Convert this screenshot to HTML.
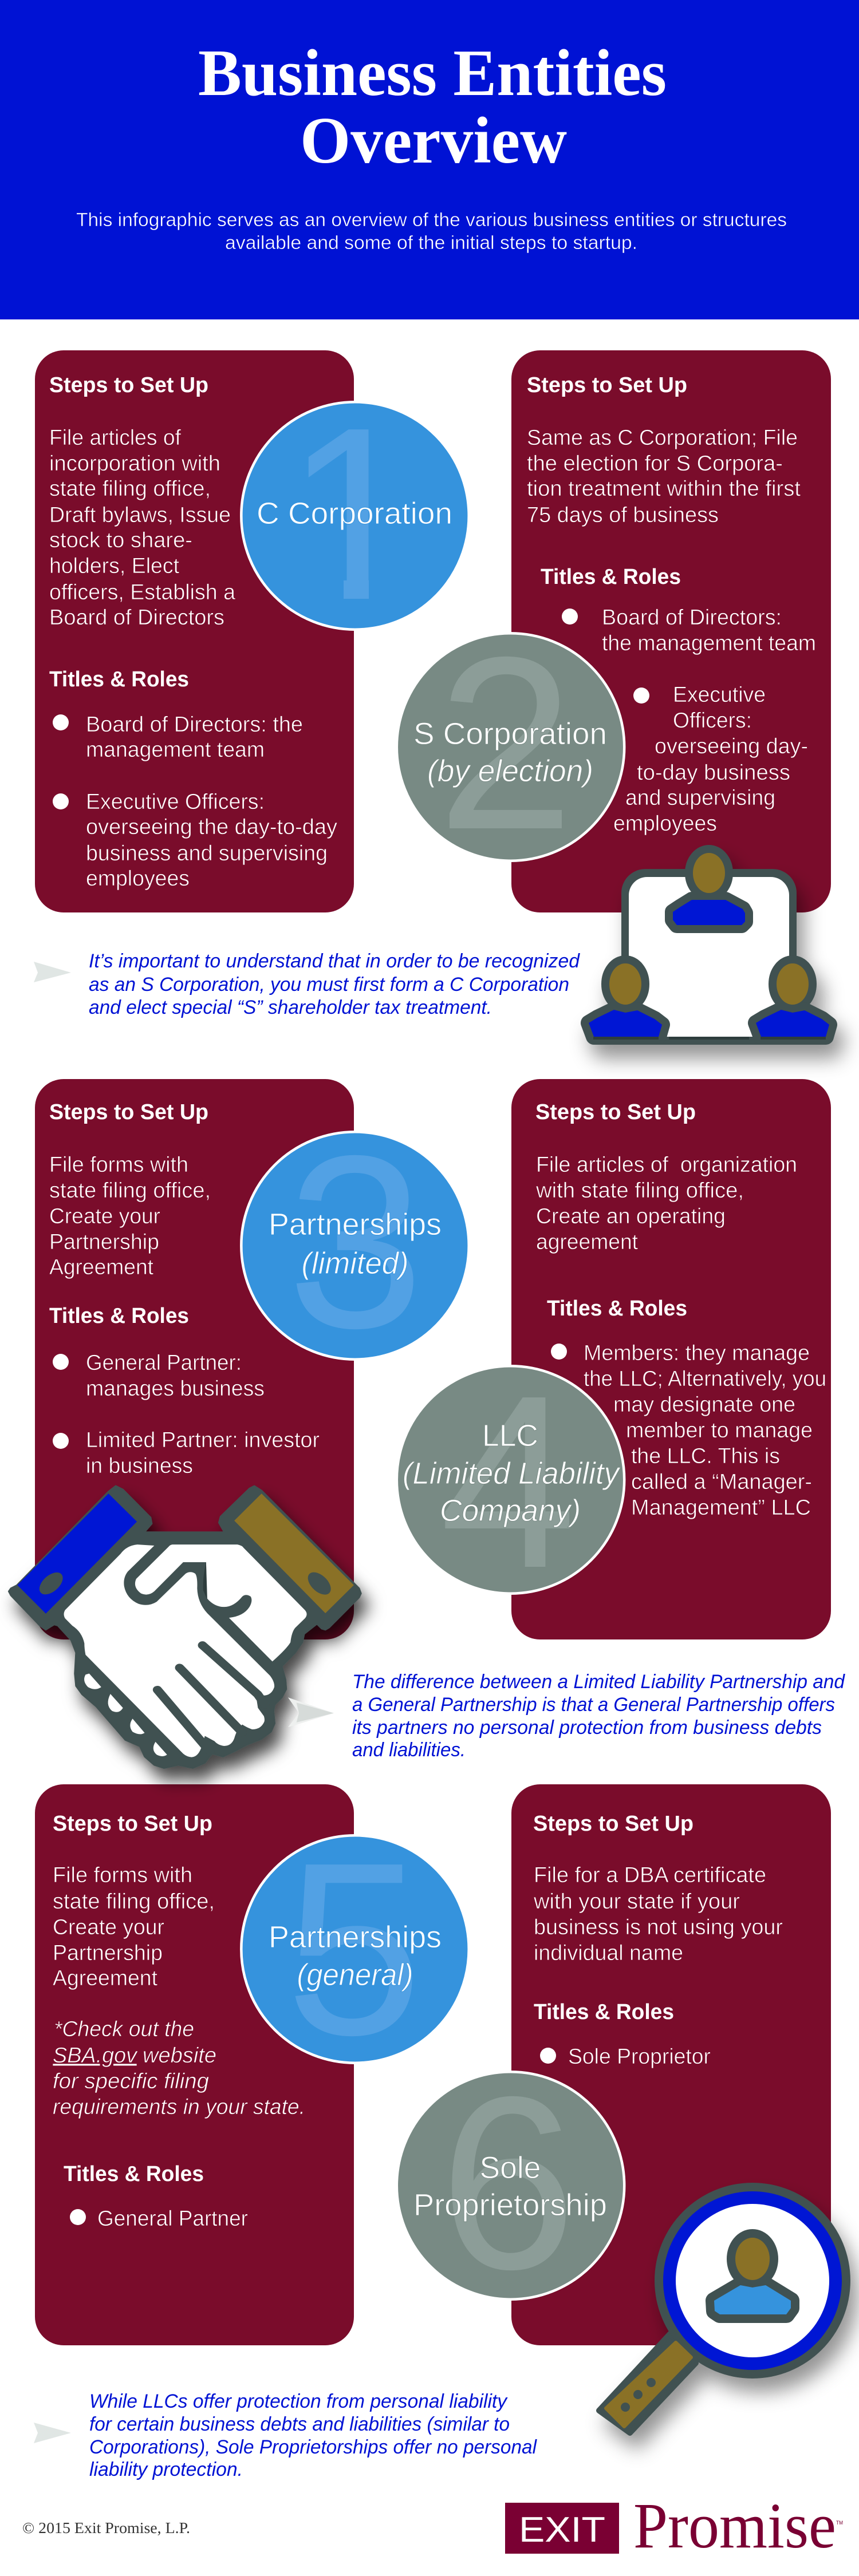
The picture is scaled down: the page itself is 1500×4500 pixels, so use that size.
<!DOCTYPE html>
<html lang="en"><head><meta charset="utf-8"><title>Business Entities Overview</title>
<style>
html,body{margin:0;padding:0;background:#fff}
svg{display:block}
text{font-family:"Liberation Sans",sans-serif;fill:#fff;font-size:38px}
.t text{stroke:#7a0c2b;stroke-width:.7}
.t text.b{stroke:none}
.b{font-weight:bold}
.i{font-style:italic}
.n{font-style:italic;fill:#0012d4;font-size:34px}
.l{font-size:54px;text-anchor:middle}
.lb{stroke:#3593dd;stroke-width:.9}
.lg{stroke:#788a84;stroke-width:.9}
.d{font-size:430px;text-anchor:middle}
.db{fill:#52a1e4}.dg{fill:#8c9d98}
.card{fill:#7a0c2b}
.cb{fill:#3593dd;stroke:#fff;stroke-width:4.5}
.cg{fill:#788a84;stroke:#fff;stroke-width:4.5}
.dk{fill:#415151}
.gold{fill:#8a7126}
.bl{fill:#0012d4}
</style></head><body>
<svg xmlns="http://www.w3.org/2000/svg" width="1500" height="4500" viewBox="0 0 1500 4500">
<defs>
<filter id="sh" x="-30%" y="-30%" width="170%" height="170%"><feDropShadow dx="13" dy="24" stdDeviation="17" flood-color="#000" flood-opacity=".42"/></filter>
<filter id="sh2" x="-30%" y="-30%" width="170%" height="170%"><feDropShadow dx="12" dy="22" stdDeviation="15" flood-color="#000" flood-opacity=".72"/></filter>
<clipPath id="one"><rect x="500" y="700" width="200" height="310"/><rect x="600" y="1000" width="44" height="60"/></clipPath>
</defs>
<rect width="1500" height="4500" fill="#fff"/>
<rect width="1500" height="558" fill="#0012d4"/>
<text x="346" y="166" class="b" style="font-family:'Liberation Serif',serif;font-size:115px" textLength="818" lengthAdjust="spacingAndGlyphs">Business Entities</text>
<text x="524" y="284" class="b" style="font-family:'Liberation Serif',serif;font-size:115px" textLength="466" lengthAdjust="spacingAndGlyphs">Overview</text>
<g style="stroke:#0012d4;stroke-width:.5">
<text x="133" y="395" style="font-size:33px" textLength="1241" lengthAdjust="spacingAndGlyphs">This infographic serves as an overview of the various business entities or structures</text>
<text x="393" y="435" style="font-size:33px" textLength="720" lengthAdjust="spacingAndGlyphs">available and some of the initial steps to startup.</text>
</g>

<!-- cards -->
<rect class="card" x="61" y="612" width="557" height="982" rx="50"/>
<rect class="card" x="893" y="612" width="558" height="982" rx="50"/>
<rect class="card" x="61" y="1885" width="557" height="979" rx="50"/>
<rect class="card" x="893" y="1885" width="558" height="979" rx="50"/>
<rect class="card" x="61" y="3117" width="557" height="980" rx="50"/>
<rect class="card" x="893" y="3117" width="558" height="980" rx="50"/>

<g class="t">
<!-- Card 1 -->
<text class="b" x="86" y="685" textLength="278" lengthAdjust="spacingAndGlyphs">Steps to Set Up</text>
<text x="86" y="777" textLength="230" lengthAdjust="spacingAndGlyphs">File articles of</text>
<text x="86" y="822" textLength="299" lengthAdjust="spacingAndGlyphs">incorporation with</text>
<text x="86" y="866" textLength="282" lengthAdjust="spacingAndGlyphs">state filing office,</text>
<text x="86" y="912" textLength="317" lengthAdjust="spacingAndGlyphs">Draft bylaws, Issue</text>
<text x="86" y="956" textLength="250" lengthAdjust="spacingAndGlyphs">stock to share-</text>
<text x="86" y="1001" textLength="227" lengthAdjust="spacingAndGlyphs">holders, Elect</text>
<text x="86" y="1047" textLength="325" lengthAdjust="spacingAndGlyphs">officers, Establish a</text>
<text x="86" y="1091" textLength="306" lengthAdjust="spacingAndGlyphs">Board of Directors</text>
<text class="b" x="86" y="1199" textLength="244" lengthAdjust="spacingAndGlyphs">Titles &amp; Roles</text>
<circle cx="106" cy="1262" r="14" fill="#fff"/>
<text x="150" y="1278" textLength="379" lengthAdjust="spacingAndGlyphs">Board of Directors: the</text>
<text x="150" y="1322" textLength="312" lengthAdjust="spacingAndGlyphs">management team</text>
<circle cx="106" cy="1400" r="14" fill="#fff"/>
<text x="150" y="1413" textLength="312" lengthAdjust="spacingAndGlyphs">Executive Officers:</text>
<text x="150" y="1457" textLength="439" lengthAdjust="spacingAndGlyphs">overseeing the day-to-day</text>
<text x="150" y="1503" textLength="422" lengthAdjust="spacingAndGlyphs">business and supervising</text>
<text x="150" y="1547" textLength="181" lengthAdjust="spacingAndGlyphs">employees</text>

<!-- Card 2 -->
<text class="b" x="920" y="685" textLength="280" lengthAdjust="spacingAndGlyphs">Steps to Set Up</text>
<text x="920" y="777" textLength="473" lengthAdjust="spacingAndGlyphs">Same as C Corporation; File</text>
<text x="920" y="822" textLength="447" lengthAdjust="spacingAndGlyphs">the election for S Corpora-</text>
<text x="920" y="866" textLength="478" lengthAdjust="spacingAndGlyphs">tion treatment within the first</text>
<text x="920" y="912" textLength="335" lengthAdjust="spacingAndGlyphs">75 days of business</text>
<text class="b" x="944" y="1020" textLength="245" lengthAdjust="spacingAndGlyphs">Titles &amp; Roles</text>
<circle cx="995" cy="1077" r="14" fill="#fff"/>
<text x="1051" y="1091" textLength="314" lengthAdjust="spacingAndGlyphs">Board of Directors:</text>
<text x="1051" y="1136" textLength="374" lengthAdjust="spacingAndGlyphs">the management team</text>
<circle cx="1120" cy="1215" r="14" fill="#fff"/>
<text x="1175" y="1226" textLength="162" lengthAdjust="spacingAndGlyphs">Executive</text>
<text x="1175" y="1271" textLength="138" lengthAdjust="spacingAndGlyphs">Officers:</text>
<text x="1143" y="1316" textLength="268" lengthAdjust="spacingAndGlyphs">overseeing day-</text>
<text x="1112" y="1362" textLength="268" lengthAdjust="spacingAndGlyphs">to-day business</text>
<text x="1092" y="1406" textLength="262" lengthAdjust="spacingAndGlyphs">and supervising</text>
<text x="1071" y="1451" textLength="181" lengthAdjust="spacingAndGlyphs">employees</text>

<!-- Card 3 -->
<text class="b" x="86" y="1955" textLength="278" lengthAdjust="spacingAndGlyphs">Steps to Set Up</text>
<text x="86" y="2047" textLength="243" lengthAdjust="spacingAndGlyphs">File forms with</text>
<text x="86" y="2092" textLength="282" lengthAdjust="spacingAndGlyphs">state filing office,</text>
<text x="86" y="2137" textLength="194" lengthAdjust="spacingAndGlyphs">Create your</text>
<text x="86" y="2182" textLength="192" lengthAdjust="spacingAndGlyphs">Partnership</text>
<text x="86" y="2226" textLength="182" lengthAdjust="spacingAndGlyphs">Agreement</text>
<text class="b" x="86" y="2311" textLength="244" lengthAdjust="spacingAndGlyphs">Titles &amp; Roles</text>
<circle cx="106" cy="2379" r="14" fill="#fff"/>
<text x="150" y="2393" textLength="272" lengthAdjust="spacingAndGlyphs">General Partner:</text>
<text x="150" y="2438" textLength="312" lengthAdjust="spacingAndGlyphs">manages business</text>
<circle cx="106" cy="2517" r="14" fill="#fff"/>
<text x="150" y="2528" textLength="408" lengthAdjust="spacingAndGlyphs">Limited Partner: investor</text>
<text x="150" y="2573" textLength="187" lengthAdjust="spacingAndGlyphs">in business</text>

<!-- Card 4 -->
<text class="b" x="935" y="1955" textLength="280" lengthAdjust="spacingAndGlyphs">Steps to Set Up</text>
<text x="936" y="2047" textLength="456" lengthAdjust="spacingAndGlyphs" xml:space="preserve">File articles of  organization</text>
<text x="936" y="2092" textLength="363" lengthAdjust="spacingAndGlyphs">with state filing office,</text>
<text x="936" y="2137" textLength="331" lengthAdjust="spacingAndGlyphs">Create an operating</text>
<text x="936" y="2182" textLength="178" lengthAdjust="spacingAndGlyphs">agreement</text>
<text class="b" x="955" y="2298" textLength="245" lengthAdjust="spacingAndGlyphs">Titles &amp; Roles</text>
<circle cx="976" cy="2361" r="14" fill="#fff"/>
<text x="1019" y="2376" textLength="395" lengthAdjust="spacingAndGlyphs">Members: they manage</text>
<text x="1019" y="2421" textLength="424" lengthAdjust="spacingAndGlyphs">the LLC; Alternatively, you</text>
<text x="1071" y="2466" textLength="318" lengthAdjust="spacingAndGlyphs">may designate one</text>
<text x="1093" y="2511" textLength="326" lengthAdjust="spacingAndGlyphs">member to manage</text>
<text x="1102" y="2556" textLength="260" lengthAdjust="spacingAndGlyphs">the LLC. This is</text>
<text x="1102" y="2601" textLength="316" lengthAdjust="spacingAndGlyphs">called a “Manager-</text>
<text x="1102" y="2646" textLength="314" lengthAdjust="spacingAndGlyphs">Management” LLC</text>

<!-- Card 5 -->
<text class="b" x="92" y="3198" textLength="279" lengthAdjust="spacingAndGlyphs">Steps to Set Up</text>
<text x="92" y="3288" textLength="244" lengthAdjust="spacingAndGlyphs">File forms with</text>
<text x="92" y="3334" textLength="283" lengthAdjust="spacingAndGlyphs">state filing office,</text>
<text x="92" y="3379" textLength="195" lengthAdjust="spacingAndGlyphs">Create your</text>
<text x="92" y="3424" textLength="192" lengthAdjust="spacingAndGlyphs">Partnership</text>
<text x="92" y="3468" textLength="183" lengthAdjust="spacingAndGlyphs">Agreement</text>
<text class="i" x="94" y="3557" textLength="245" lengthAdjust="spacingAndGlyphs">*Check out the</text>
<text class="i" x="92" y="3603" textLength="147" lengthAdjust="spacingAndGlyphs" text-decoration="underline">SBA.gov</text>
<text class="i" x="249" y="3603" textLength="129" lengthAdjust="spacingAndGlyphs">website</text>
<text class="i" x="92" y="3648" textLength="273" lengthAdjust="spacingAndGlyphs">for specific filing</text>
<text class="i" x="92" y="3693" textLength="441" lengthAdjust="spacingAndGlyphs">requirements in your state.</text>
<text class="b" x="111" y="3810" textLength="245" lengthAdjust="spacingAndGlyphs">Titles &amp; Roles</text>
<circle cx="136" cy="3873" r="14" fill="#fff"/>
<text x="170" y="3888" textLength="263" lengthAdjust="spacingAndGlyphs">General Partner</text>

<!-- Card 6 -->
<text class="b" x="931" y="3198" textLength="280" lengthAdjust="spacingAndGlyphs">Steps to Set Up</text>
<text x="932" y="3288" textLength="406" lengthAdjust="spacingAndGlyphs">File for a DBA certificate</text>
<text x="932" y="3334" textLength="360" lengthAdjust="spacingAndGlyphs">with your state if your</text>
<text x="932" y="3379" textLength="435" lengthAdjust="spacingAndGlyphs">business is not using your</text>
<text x="932" y="3424" textLength="261" lengthAdjust="spacingAndGlyphs">individual name</text>
<text class="b" x="932" y="3527" textLength="245" lengthAdjust="spacingAndGlyphs">Titles &amp; Roles</text>
<circle cx="957" cy="3591" r="14" fill="#fff"/>
<text x="992" y="3605" textLength="249" lengthAdjust="spacingAndGlyphs">Sole Proprietor</text>
</g>

<!-- Note 1 -->
<polygon points="59,1680 124,1699 59,1716 66,1699" fill="#e0e6e4"/>
<text class="n" x="155" y="1690" textLength="857" lengthAdjust="spacingAndGlyphs">It’s important to understand that in order to be recognized</text>
<text class="n" x="155" y="1731" textLength="839" lengthAdjust="spacingAndGlyphs">as an S Corporation, you must first form a C Corporation</text>
<text class="n" x="155" y="1771" textLength="704" lengthAdjust="spacingAndGlyphs">and elect special “S” shareholder tax treatment.</text>

<!-- Note 2 -->
<text class="n" x="615" y="2949" textLength="860" lengthAdjust="spacingAndGlyphs">The difference between a Limited Liability Partnership and</text>
<text class="n" x="615" y="2989" textLength="843" lengthAdjust="spacingAndGlyphs">a General Partnership is that a General Partnership offers</text>
<text class="n" x="615" y="3029" textLength="820" lengthAdjust="spacingAndGlyphs">its partners no personal protection from business debts</text>
<text class="n" x="615" y="3068" textLength="198" lengthAdjust="spacingAndGlyphs">and liabilities.</text>

<!-- Note 3 -->
<polygon points="59,4232 124,4250 59,4268 66,4250" fill="#e0e6e4"/>
<text class="n" x="156" y="4206" textLength="729" lengthAdjust="spacingAndGlyphs">While LLCs offer protection from personal liability</text>
<text class="n" x="156" y="4246" textLength="734" lengthAdjust="spacingAndGlyphs">for certain business debts and liabilities (similar to</text>
<text class="n" x="156" y="4286" textLength="781" lengthAdjust="spacingAndGlyphs">Corporations), Sole Proprietorships offer no personal</text>
<text class="n" x="156" y="4325" textLength="268" lengthAdjust="spacingAndGlyphs">liability protection.</text>

<!-- Circles -->
<circle class="cb" cx="620" cy="901" r="198.7"/>
<text class="d db" x="617" y="1046" clip-path="url(#one)">1</text>
<text class="l lb" x="619" y="915" textLength="342" lengthAdjust="spacingAndGlyphs">C Corporation</text>

<circle class="cg" cx="891.5" cy="1305" r="198.7"/>
<text class="d dg" x="883" y="1447">2</text>
<text class="l lg" x="891" y="1300" textLength="338" lengthAdjust="spacingAndGlyphs">S Corporation</text>
<text class="l i lg" x="891" y="1365" textLength="290" lengthAdjust="spacingAndGlyphs">(by election)</text>

<circle class="cb" cx="620" cy="2176" r="198.7"/>
<text class="d db" x="621" y="2318">3</text>
<text class="l lb" x="620" y="2157" textLength="302" lengthAdjust="spacingAndGlyphs">Partnerships</text>
<text class="l i lb" x="620" y="2225" textLength="187" lengthAdjust="spacingAndGlyphs">(limited)</text>

<circle class="cg" cx="891.5" cy="2585" r="198.7"/>
<text class="d dg" x="887" y="2737">4</text>
<text class="l lg" x="891" y="2526" textLength="98" lengthAdjust="spacingAndGlyphs">LLC</text>
<text class="l i lg" x="892" y="2592" textLength="378" lengthAdjust="spacingAndGlyphs">(Limited Liability</text>
<text class="l i lg" x="891" y="2657" textLength="246" lengthAdjust="spacingAndGlyphs">Company)</text>

<circle class="cb" cx="620" cy="3405" r="198.7"/>
<text class="d db" x="618" y="3553">5</text>
<text class="l lb" x="620" y="3402" textLength="302" lengthAdjust="spacingAndGlyphs">Partnerships</text>
<text class="l i lb" x="620" y="3468" textLength="203" lengthAdjust="spacingAndGlyphs">(general)</text>

<circle class="cg" cx="891.5" cy="3818" r="198.7"/>
<text class="d dg" x="887" y="3962">6</text>
<text class="l lg" x="891" y="3805" textLength="107" lengthAdjust="spacingAndGlyphs">Sole</text>
<text class="l lg" x="891" y="3870" textLength="338" lengthAdjust="spacingAndGlyphs">Proprietorship</text>

<!-- People icon -->
<g filter="url(#sh)">
<rect x="1085" y="1518" width="306" height="307" rx="42" class="dk"/>
<rect x="1098" y="1532" width="280" height="279" rx="32" fill="#fff"/>
<g fill="#415151" stroke="#415151" stroke-width="28" stroke-linejoin="round">
<ellipse cx="1238" cy="1525" rx="28" ry="35"/>
<rect x="1225" y="1555" width="26" height="25" stroke="none"/>
<path d="M1182,1616 L1175,1607 L1175,1593 L1187,1585 L1208,1572 L1267,1572 L1297,1588 L1301,1595 L1301,1610 L1295,1616 Z"/>
<ellipse cx="1092" cy="1719" rx="28" ry="36"/>
<rect x="1080" y="1750" width="26" height="25" stroke="none"/>
<path id="bp" d="M1037,1811 L1028,1787 L1043,1778 L1072,1764 L1092,1769 L1113,1765 L1143,1780 L1156,1790 L1150,1811 Z"/>
<ellipse cx="1384" cy="1719" rx="28" ry="36"/>
<rect x="1372" y="1750" width="26" height="25" stroke="none"/>
<path d="M1329,1811 L1320,1787 L1335,1778 L1364,1764 L1384,1769 L1405,1765 L1435,1780 L1448,1790 L1442,1811 Z"/>
</g>
<ellipse cx="1238" cy="1525" rx="28" ry="35" class="gold"/>
<path class="bl" d="M1182,1616 L1175,1607 L1175,1593 L1187,1585 L1208,1572 L1267,1572 L1297,1588 L1301,1595 L1301,1610 L1295,1616 Z"/>
<ellipse cx="1092" cy="1719" rx="28" ry="36" class="gold"/>
<path class="bl" d="M1037,1811 L1028,1787 L1043,1778 L1072,1764 L1092,1769 L1113,1765 L1143,1780 L1156,1790 L1150,1811 Z"/>
<ellipse cx="1384" cy="1719" rx="28" ry="36" class="gold"/>
<path class="bl" d="M1329,1811 L1320,1787 L1335,1778 L1364,1764 L1384,1769 L1405,1765 L1435,1780 L1448,1790 L1442,1811 Z"/>
<rect x="1036" y="1811" width="114" height="5" fill="#2d3c3c"/>
<rect x="1168" y="1811" width="140" height="5" fill="#2d3c3c"/>
<rect x="1328" y="1811" width="114" height="5" fill="#2d3c3c"/>
</g>

<!-- Handshake (traced) -->
<g filter="url(#sh2)">
<g transform="translate(0,2560) scale(.4209,.3635)">
<path class="dk" stroke="#415151" stroke-width="6" stroke-linejoin="round" d="M480,98 L510,115 L625,250 L630,280 L600,320 L930,320 L908,275 L915,245 L1035,110 L1055,98 L1085,120 L1490,590 L1498,615 L1490,635 L1365,780 L1350,790 L1335,785 L1315,762 L1262,810 L1255,850 L1225,900 L1170,965 L1185,1030 L1188,1075 L1170,1115 L1140,1150 L1135,1180 L1140,1240 L1125,1280 L1085,1315 L1030,1340 L980,1370 L925,1400 L880,1385 L850,1430 L800,1455 L740,1440 L680,1455 L640,1440 L600,1400 L580,1350 L520,1320 L400,1160 L340,1100 L315,1060 L310,1000 L315,900 L295,840 L240,770 L225,765 L210,775 L190,790 L165,770 L45,625 L36,605 L45,590 L70,575 L450,125 Z"/>
<polygon class="bl" points="450,135 568,270 190,712 72,575"/>
<polygon class="gold" points="1085,135 1468,575 1350,710 972,265"/>
<ellipse cx="212" cy="567" rx="36" ry="62" transform="rotate(40 212 567)" class="dk"/>
<ellipse cx="1325" cy="567" rx="36" ry="62" transform="rotate(-38 1325 567)" class="dk"/>
<path fill="#fff" d="M715,380 L985,380 Q1005,385 1010,395 L1265,695 Q1280,715 1265,735 L1225,780 Q1210,800 1205,850 Q1190,880 1130,942 L950,732 Q1010,725 1035,680 Q1050,650 1040,630 Q1020,615 1005,630 Q970,680 930,680 Q890,680 860,640 L855,465 L760,465 L640,605 Q615,630 585,615 Q550,585 565,545 L700,390 Q705,382 715,380 Z"/>
<path fill="#fff" d="M270,695 L500,425 Q525,385 570,380 L640,385 L530,510 Q510,540 515,580 Q525,640 575,665 Q615,680 650,655 L770,520 Q790,505 810,520 Q820,535 818,590 Q820,660 860,710 L1120,1010 Q1140,1040 1138,1065 Q1125,1110 1085,1105 Q1070,1100 1060,1090 L1070,1165 L1095,1205 Q1100,1225 1095,1235 Q1080,1270 1045,1268 Q1025,1260 1005,1245 L985,1270 L975,1300 Q965,1348 930,1348 Q905,1345 890,1325 L850,1300 L838,1345 Q825,1400 795,1402 Q775,1400 760,1385 L355,910 Q350,880 350,855 Q340,800 300,770 L270,735 Q260,715 270,695 Z"/>
<path fill="#2d3c3c" d="M855,465 L858,640 L843,600 Q840,540 855,465 Z"/>
<g fill="none" stroke="#415151" stroke-width="38" stroke-linecap="round">
<path d="M840,864 L1069,1100 L1100,1150"/>
<path d="M745,972 L1005,1283"/>
<path d="M653,1078 L871,1375"/>
</g>
<g fill="#fff">
<path d="M370,1000 L420,1065 Q395,1085 365,1065 Q340,1035 355,1005 Z"/>
<path d="M458,1098 L510,1165 Q495,1195 465,1180 Q435,1150 458,1098 Z"/>
<path d="M550,1217 L600,1285 Q580,1300 550,1280 Q530,1250 550,1217 Z"/>
<path d="M645,1328 L693,1390 Q675,1405 650,1390 Q625,1365 645,1328 Z"/>
</g>
</g>
</g>
<!-- Arrow 2 -->
<g transform="translate(0,2560) scale(.4209,.3635)">
<polygon points="1195,1115 1385,1190 1195,1258 1240,1190" fill="#eef0ef"/>
<polygon points="1230,1140 1385,1190 1230,1235 1240,1190" fill="#d6dbd9"/>
</g>

<!-- Magnifier -->
<g filter="url(#sh)">
<path class="dk" stroke="#415151" stroke-width="10" stroke-linejoin="round" d="M1170,4077 L1215,4128 L1100,4250 L1046,4211 Z"/>
<circle cx="1314" cy="3984" r="171" class="dk"/>
<circle cx="1314" cy="3984" r="156" class="bl"/>
<circle cx="1314" cy="3984" r="134" fill="#fff"/>
<path class="gold" stroke="#8a7126" stroke-width="6" stroke-linejoin="round" d="M1180,4092 L1207,4118 L1090,4239 L1058,4207 Z"/>
<circle cx="1137" cy="4162" r="8" class="dk"/>
<circle cx="1114" cy="4183" r="8" class="dk"/>
<circle cx="1092" cy="4205" r="8" class="dk"/>
<g fill="#415151" stroke="#415151" stroke-width="30" stroke-linejoin="round">
<ellipse cx="1314" cy="3946" rx="30" ry="37"/>
<rect x="1300" y="3975" width="28" height="25" stroke="none"/>
<path d="M1257,4043 L1248,4037 L1247,4019 L1293,3992 L1314,3996 L1337,3992 L1381,4019 L1381,4032 L1373,4043 Z"/>
</g>
<ellipse cx="1314" cy="3946" rx="30" ry="37" class="gold"/>
<path fill="#3593dd" d="M1257,4043 L1248,4037 L1247,4019 L1293,3992 L1314,3996 L1337,3992 L1381,4019 L1381,4032 L1373,4043 Z"/>
</g>

<!-- Footer -->
<text x="39" y="4425" style="font-family:'Liberation Serif',serif;font-size:27px;fill:#333" textLength="293" lengthAdjust="spacingAndGlyphs">© 2015 Exit Promise, L.P.</text>
<rect x="882" y="4372" width="199" height="89" fill="#7a0033"/>
<text x="906" y="4440" style="font-size:62px" textLength="151" lengthAdjust="spacingAndGlyphs">EXIT</text>
<text x="1106" y="4450" style="font-family:'Liberation Serif',serif;font-size:113px;fill:#7a0033" textLength="354" lengthAdjust="spacingAndGlyphs">Promise</text>
<text x="1460" y="4410" style="font-size:9px;fill:#7a0033" textLength="12" lengthAdjust="spacingAndGlyphs">TM</text>
</svg>
</body></html>
